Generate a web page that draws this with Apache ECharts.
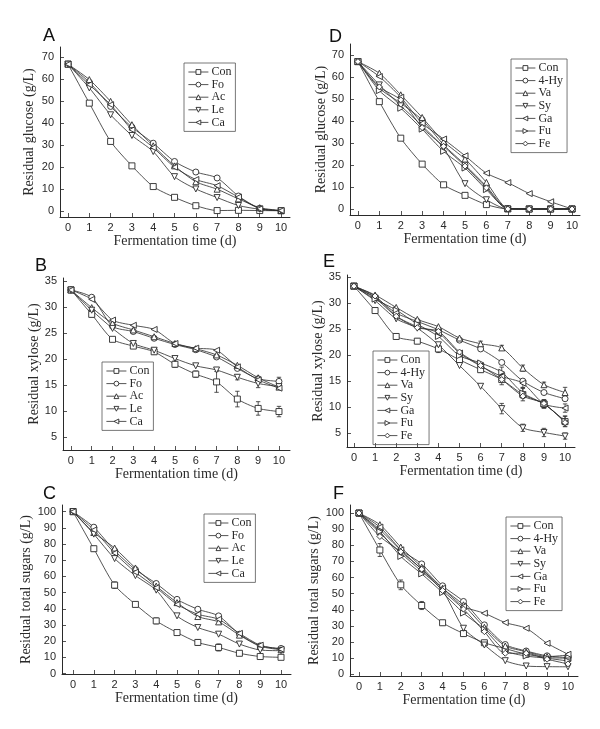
<!DOCTYPE html>
<html><head><meta charset="utf-8">
<script src="https://cdn.jsdelivr.net/npm/echarts@6/dist/echarts.min.js"></script>
<style>html,body{margin:0;padding:0;background:#fff}#c{width:600px;height:729px}</style>
</head><body><div id="c"></div>
<script>
// ---------- data ----------
const days = [0,1,2,3,4,5,6,7,8,9,10];

// A: residual glucose, group 1
const A_names = ['Con','Fo','Ac','Le','Ca'];
const A_Con = [66.7,49.0,31.6,20.5,11.1,6.2,2.4,0.2,0.3,0.2,0.1];
const A_Fo  = [66.7,58.5,47.5,38.1,30.8,22.5,17.7,15.0,6.8,1.2,0.2];
const A_Ac  = [66.7,59.7,49.8,39.2,29.6,20.5,13.3,9.9,5.5,1.5,0.2];
const A_Le  = [66.7,55.9,43.7,34.3,27.0,15.6,10.0,6.1,2.5,0.8,0.1];
const A_Ca  = [66.7,57.4,48.3,36.9,28.8,19.9,14.3,11.5,6.3,1.0,0.2];

// D: residual glucose, group 2
const D_names = ['Con','4-Hy','Va','Sy','Ga','Fu','Fe'];
const D_Con = [67.0,48.8,32.2,20.4,11.0,6.2,2.0,0.0,0.0,0.0,0.0];
const D_4Hy = [67.0,54.9,48.1,40.5,29.2,20.1,10.3,0.2,0.0,0.0,0.0];
const D_Va  = [67.0,61.7,51.9,41.6,30.7,22.7,12.1,0.3,0.0,0.0,0.0];
const D_Sy  = [67.0,56.4,46.9,37.8,27.7,11.5,4.2,0.0,0.0,0.0,0.0];
const D_Ga  = [67.0,60.2,50.8,39.0,31.8,24.2,16.3,12.0,7.0,3.3,0.0];
const D_Fu  = [67.0,53.8,45.8,36.3,26.2,18.6,8.8,0.2,0.0,0.0,0.0];
const D_Fe  = [67.0,55.5,49.6,37.0,28.5,19.5,9.6,0.0,0.0,0.0,0.0];

// B: residual xylose, group 1
const B_names = ['Con','Fo','Ac','Le','Ca'];
const B_Con = [33.3,28.6,23.8,22.5,21.4,19.0,17.1,15.6,12.3,10.5,9.9];
const B_Fo  = [33.3,31.9,26.3,25.3,24.0,22.8,21.8,20.4,18.2,16.2,15.7];
const B_Ac  = [33.3,29.9,26.9,25.6,24.3,23.0,22.0,20.8,18.8,16.4,14.6];
const B_Le  = [33.3,29.4,25.9,23.0,21.7,20.1,18.7,17.9,16.5,15.3,14.7];
const B_Ca  = [33.3,31.5,27.5,26.5,25.7,23.0,22.1,21.7,18.5,16.0,14.4];

// E: residual xylose, group 2
const E_names = ['Con','4-Hy','Va','Sy','Ga','Fu','Fe'];
const E_Con = [33.3,28.6,23.6,22.7,21.2,19.1,17.2,15.3,12.4,10.6,7.2];
const E_4Hy = [33.3,31.2,28.1,26.5,24.9,22.9,21.2,18.6,15.0,12.8,11.6];
const E_Va  = [33.3,31.6,29.2,26.9,25.5,23.3,22.2,21.4,17.5,14.3,12.8];
const E_Sy  = [33.3,30.5,27.0,25.2,22.0,18.0,14.0,9.7,6.0,5.1,4.4];
const E_Ga  = [33.3,31.0,27.5,25.5,24.3,20.4,17.9,15.9,14.6,10.6,9.8];
const E_Fu  = [33.3,30.8,28.7,26.0,23.6,19.9,18.5,16.7,12.7,10.6,7.3];
const E_Fe  = [33.3,31.4,27.5,25.3,24.6,20.6,18.0,15.3,12.1,10.7,7.0];

// C: residual total sugars, group 1
const C_names = ['Con','Fo','Ac','Le','Ca'];
const C_Con = [100,77.1,54.6,42.7,32.5,25.3,19.2,16.1,12.5,10.5,10.0];
const C_Fo  = [100,90.4,75.9,64.2,55.6,45.8,39.7,35.6,24.3,17.1,15.5];
const C_Ac  = [100,87.1,77.5,65.2,54.0,43.8,35.2,31.9,23.7,16.8,14.7];
const C_Le  = [100,86.1,71.0,60.5,51.5,35.6,28.4,24.3,18.2,14.5,14.1];
const C_Ca  = [100,88.7,74.4,62.6,53.0,42.7,36.6,33.5,24.8,17.5,15.0];

// F: residual total sugars, group 2
const F_names = ['Con','4-Hy','Va','Sy','Ga','Fu','Fe'];
const F_Con = [100,77.1,55.5,42.7,32.0,25.3,19.6,16.0,12.5,10.5,10.0];
const F_4Hy = [100,89.7,77.2,68.5,54.9,45.2,30.7,18.5,14.5,11.5,10.4];
const F_Va  = [100,92.8,78.9,66.5,53.4,43.1,29.2,17.6,14.1,11.0,12.0];
const F_Sy  = [100,87.6,75.2,63.8,52.0,28.6,18.2,8.5,5.2,4.8,4.7];
const F_Ga  = [100,91.3,77.2,65.2,53.4,42.1,37.9,32.1,28.6,19.3,12.5];
const F_Fu  = [100,88.5,73.1,62.3,50.7,38.0,28.0,14.7,11.4,10.0,8.3];
const F_Fe  = [100,85.5,76.0,65.2,52.0,40.5,26.5,13.1,13.1,9.4,6.5];

// error bars (± value per day), only where visible
const B_Con_err = [0,0.5,0.4,0.4,0.5,0.6,0.6,2.0,1.5,1.3,1.0];
const B_Le_err  = [0,0,0,0,0.5,0,0,0,0.5,0.8,0.5];
const B_Fo_err  = [0,0,0,0,0,0,0,0,0.4,0.4,0.8];
const E_Con_err = [0,0.5,0.5,0.5,0.7,0.5,0.5,1.0,1.2,0.8,1.0];
const E_Sy_err  = [0,0,0,0,0,0,0,1.0,0.7,0.8,0.6];
const E_Fu_err  = [0,0,0,0,0,0,0,1.0,1.0,0.8,1.0];
const E_Ga_err  = [0,0,0,0,0,0,0.5,0.8,0.8,0.7,0.8];
const E_Va_err  = [0,0,0,0,0,0,0.5,0.5,0.6,0.5,1.0];
const C_Con_err = [0,1.5,2.0,1.5,1.8,1.5,1.8,2.2,1.5,1.2,0.8];
const F_Con_err = [0,4.0,3.0,2.5,1.5,1.5,1.5,2.0,1.5,1.0,0.8];

const glucoseTicks = [0,10,20,30,40,50,60,70];
const xyloseTicks = [5,10,15,20,25,30,35];
const sugarTicks = [0,10,20,30,40,50,60,70,80,90,100];

// ---------- styling ----------
const INK = '#2a2a2a';
const SERIF = 'Liberation Serif';
const SANS = 'Liberation Sans';
const SYM = {
  'Con':'rect','Fo':'circle','4-Hy':'circle','Ac':'triangle','Va':'triangle',
  'Le':'path://M0,0L10,0L5,9Z','Sy':'path://M0,0L10,0L5,9Z',
  'Ca':'path://M9,0L9,10L0,5Z','Ga':'path://M9,0L9,10L0,5Z',
  'Fu':'path://M0,0L0,10L9,5Z','Fe':'diamond'
};

const panels = [
  {letter:'A', names:A_names, data:[A_Con,A_Fo,A_Ac,A_Le,A_Ca], errs:{},
   grid:{left:60,top:47,width:230,height:170}, x:[-0.376,10.42], y:[-2.73,74.5], yt:glucoseTicks,
   yname:'Residual glucose (g/L)', ygap:24, letterPos:[43,36],
   legend:{left:184,top:63}},
  {letter:'D', names:D_names, data:[D_Con,D_4Hy,D_Va,D_Sy,D_Ga,D_Fu,D_Fe], errs:{},
   grid:{left:350,top:44,width:230,height:171}, x:[-0.37,10.37], y:[-2.73,75], yt:glucoseTicks,
   yname:'Residual glucose (g/L)', ygap:21, letterPos:[329,37],
   legend:{left:511,top:59}},
  {letter:'B', names:B_names, data:[B_Con,B_Fo,B_Ac,B_Le,B_Ca], errs:{0:B_Con_err,1:B_Fo_err,3:B_Le_err},
   grid:{left:63,top:278,width:227,height:172}, x:[-0.38,10.53], y:[2.5,35.6], yt:xyloseTicks,
   yname:'Residual xylose (g/L)', ygap:21, letterPos:[35,266],
   legend:{left:102,top:362}},
  {letter:'E', names:E_names, data:[E_Con,E_4Hy,E_Va,E_Sy,E_Ga,E_Fu,E_Fe], errs:{0:E_Con_err,2:E_Va_err,3:E_Sy_err,4:E_Ga_err,5:E_Fu_err},
   grid:{left:347,top:275,width:228,height:172}, x:[-0.33,10.47], y:[2.3,35.45], yt:xyloseTicks,
   yname:'Residual xylose (g/L)', ygap:18, letterPos:[323,262],
   legend:{left:373,top:351}},
  {letter:'C', names:C_names, data:[C_Con,C_Fo,C_Ac,C_Le,C_Ca], errs:{0:C_Con_err},
   grid:{left:62,top:505,width:229,height:169}, x:[-0.53,10.48], y:[-0.3,104.1], yt:sugarTicks,
   yname:'Residual total sugars (g/L)', ygap:23, letterPos:[43,494],
   legend:{left:204,top:514}},
  {letter:'F', names:F_names, data:[F_Con,F_4Hy,F_Va,F_Sy,F_Ga,F_Fu,F_Fe], errs:{0:F_Con_err},
   grid:{left:350,top:505,width:228,height:171}, x:[-0.43,10.48], y:[-1,105], yt:sugarTicks,
   yname:'Residual total sugars (g/L)', ygap:19, letterPos:[333,494],
   legend:{left:506,top:517}}
];

function errRender(params, api){
  const x = api.value(0), lo = api.value(1), hi = api.value(2);
  const p1 = api.coord([x, lo]), p2 = api.coord([x, hi]);
  const w = 2.2, st = {stroke: INK, lineWidth: 0.8};
  return {type:'group', children:[
    {type:'line', shape:{x1:p1[0],y1:p1[1],x2:p2[0],y2:p2[1]}, style:st},
    {type:'line', shape:{x1:p1[0]-w,y1:p1[1],x2:p1[0]+w,y2:p1[1]}, style:st},
    {type:'line', shape:{x1:p2[0]-w,y1:p2[1],x2:p2[0]+w,y2:p2[1]}, style:st}
  ]};
}

const grids=[], xAxes=[], yAxes=[], series=[], legends=[], graphics=[];
panels.forEach((p,i)=>{
  grids.push(Object.assign({containLabel:false}, p.grid));
  xAxes.push({type:'value', gridIndex:i, min:p.x[0], max:p.x[1],
    axisLine:{show:true,onZero:false,lineStyle:{color:INK,width:1}},
    axisTick:{show:true,inside:true,length:4,customValues:days,lineStyle:{color:INK,width:0.8}},
    axisLabel:{customValues:days,fontFamily:SANS,fontSize:11,color:INK,margin:5},
    splitLine:{show:false},
    name:'Fermentation time (d)', nameLocation:'middle', nameGap:16,
    nameTextStyle:{fontFamily:SERIF,fontSize:14,color:INK,verticalAlign:'top'}});
  yAxes.push({type:'value', gridIndex:i, min:p.y[0], max:p.y[1],
    axisLine:{show:true,onZero:false,lineStyle:{color:INK,width:1}},
    axisTick:{show:true,inside:true,length:4,customValues:p.yt,lineStyle:{color:INK,width:0.8}},
    axisLabel:{customValues:p.yt,fontFamily:SANS,fontSize:11,color:INK,margin:6},
    splitLine:{show:false},
    name:p.yname, nameLocation:'middle', nameGap:p.ygap, nameRotate:90,
    nameTextStyle:{fontFamily:SERIF,fontSize:14,color:INK,verticalAlign:'bottom'}});
  p.names.forEach((n,k)=>{
    series.push({type:'line', name:n, xAxisIndex:i, yAxisIndex:i,
      data: days.map((d,j)=>[d,p.data[k][j]]),
      smooth:0.25, symbol:SYM[n], symbolSize:6, showAllSymbol:true,
      lineStyle:{color:INK,width:0.8}, itemStyle:{color:'#fff',borderColor:INK,borderWidth:0.9},
      emphasis:{disabled:true}, z:3, animation:false});
    const e = p.errs[k];
    if (e){
      const ed = [];
      days.forEach((d,j)=>{ if (e[j]>0) ed.push([d, p.data[k][j]-e[j], p.data[k][j]+e[j]]); });
      series.push({type:'custom', name:n+'-err', xAxisIndex:i, yAxisIndex:i, data:ed,
        renderItem:errRender, z:2, silent:true, animation:false});
    }
  });
  legends.push({data:p.names, orient:'vertical', left:p.legend.left, top:p.legend.top,
    itemWidth:20, itemHeight:6, itemGap:0.6,
    itemStyle:{color:'#fff', borderColor:INK, borderWidth:0.9},
    lineStyle:{color:INK, width:0.8},
    textStyle:{fontFamily:SERIF,fontSize:12,color:INK,lineHeight:12,padding:[0,0,0,-2]},
    borderColor:'#555', borderWidth:0.8, padding:[3,4,3,4], selectedMode:false});
  graphics.push({type:'text', left:p.letterPos[0], top:p.letterPos[1]-9,
    style:{text:p.letter, font:'18px "Liberation Sans"', fill:'#111'}});
});

const chart = echarts.init(document.getElementById('c'), null, {renderer:'canvas'});
chart.setOption({animation:false, backgroundColor:'#fff', grid:grids, xAxis:xAxes, yAxis:yAxes,
  legend:legends, series:series, graphic:graphics});
</script></body></html>
